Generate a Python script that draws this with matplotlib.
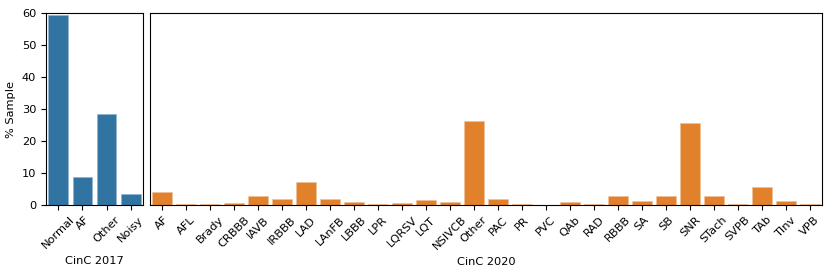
import matplotlib
matplotlib.use("Agg")
import matplotlib.pyplot as plt

plt.rcParams["font.size"] = 8.2

cats_2017 = ["Normal", "AF", "Other", "Noisy"]
vals_2017 = [59.5, 8.8, 28.3, 3.3]

cats_2020 = ["AF", "AFL", "Brady", "CRBBB", "IAVB", "IRBBB", "LAD", "LAnFB", "LBBB",
             "LPR", "LQRSV", "LQT", "NSIVCB", "Other", "PAC", "PR", "PVC", "QAb", "RAD",
             "RBBB", "SA", "SB", "SNR", "STach", "SVPB", "TAb", "TInv", "VPB"]
vals_2020 = [4.2, 0.3, 0.3, 0.7, 2.8, 1.8, 7.3, 2.0, 1.0,
             0.3, 0.5, 1.7, 1.0, 26.2, 2.0, 0.3, 0.1, 1.0, 0.4,
             2.9, 1.4, 2.8, 25.6, 2.8, 0.2, 5.6, 1.2, 0.4]

fig = plt.figure(figsize=(8.31, 2.76), dpi=100)
ax1 = fig.add_axes([46/831, 1-205/276, 97/831, 192/276])
ax2 = fig.add_axes([150/831, 1-205/276, 672/831, 192/276], sharey=ax1)

ax1.bar(range(len(cats_2017)), vals_2017, width=0.8, color="#3274a1",
        edgecolor="#8fb3cf", linewidth=0.4)
ax1.set_xticks(range(len(cats_2017)))
ax1.set_xticklabels(cats_2017, rotation=45)
ax1.set_xlim(-0.5, len(cats_2017) - 0.5)
ax1.set_ylim(0, 60)
ax1.set_yticks(range(0, 61, 10))
ax1.set_ylabel("% Sample")
ax1.set_xlabel("CinC 2017")

ax2.bar(range(len(cats_2020)), vals_2020, width=0.8, color="#e1812c",
        edgecolor="#f0c095", linewidth=0.4)
ax2.set_xticks(range(len(cats_2020)))
ax2.set_xticklabels(cats_2020, rotation=45)
ax2.set_xlim(-0.5, len(cats_2020) - 0.5)
ax2.tick_params(axis="y", left=False, labelleft=False)
ax2.set_xlabel("CinC 2020")

fig.savefig("out.png", dpi=100)
